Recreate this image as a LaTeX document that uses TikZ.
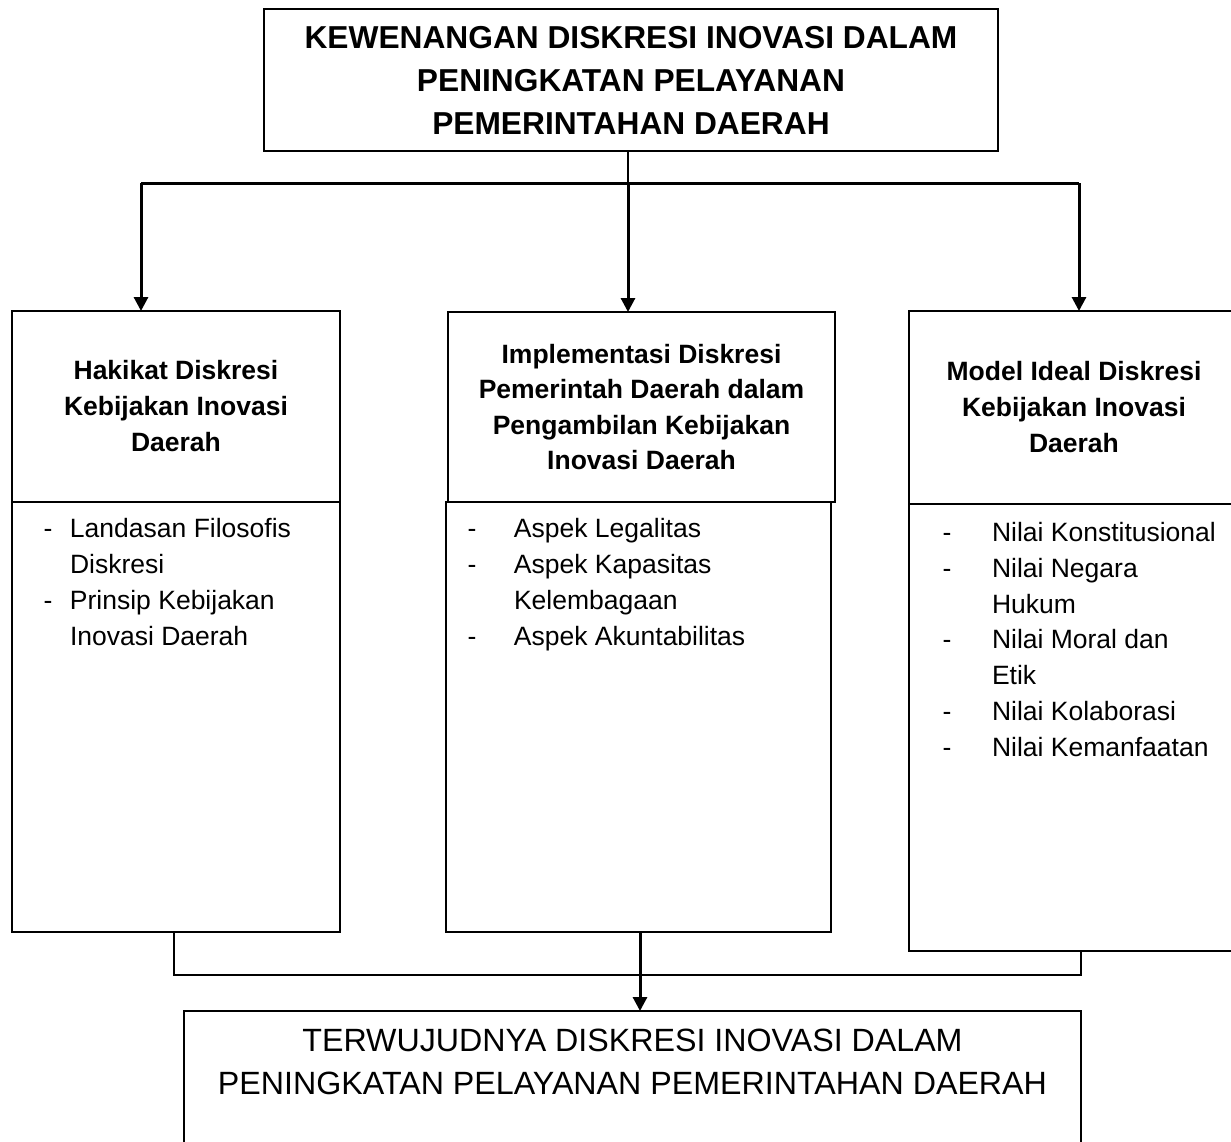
\documentclass[tikz,border=0pt]{standalone}
\usepackage{fontspec}
\setmainfont{Liberation Sans}
\usetikzlibrary{arrows.meta}
\begin{document}
\begin{tikzpicture}[x=1pt,y=-1pt,
  box/.style={draw, line width=2pt, rectangle, inner sep=0pt, outer sep=0pt, anchor=north west, align=center},
  hdr/.style={box, font=\fontsize{26.5}{36}\selectfont\bfseries},
  bus/.style={line width=3pt},
  arr/.style={line width=3pt, -{Triangle[length=14pt,width=14pt]}},
  conn/.style={line width=1.8pt},
  lst/.style={anchor=base west, inner sep=0pt, outer sep=0pt, font=\fontsize{26.5}{36}\selectfont}
]
\useasboundingbox (0,0) rectangle (1231,1141);
\clip (0,0) rectangle (1231,1141);

% top box
\node[box, minimum width=734pt, minimum height=142pt, font=\fontsize{31.7}{43}\selectfont\bfseries] (top) at (264,9)
  {KEWENANGAN DISKRESI INOVASI DALAM\\PENINGKATAN PELAYANAN\\PEMERINTAHAN DAERAH};

% headers
\node[hdr, minimum width=328pt, minimum height=191pt] (hL) at (12,311)
  {Hakikat Diskresi\\Kebijakan Inovasi\\Daerah};
\node[hdr, minimum width=387pt, minimum height=190pt, font=\fontsize{26.5}{35.5}\selectfont\bfseries] (hM) at (448,312)
  {Implementasi Diskresi\\Pemerintah Daerah dalam\\Pengambilan Kebijakan\\Inovasi Daerah};
\node[hdr, minimum width=330pt, minimum height=193pt] (hR) at (909,311)
  {Model Ideal Diskresi\\Kebijakan Inovasi\\Daerah};

% bodies
\node[box, minimum width=328pt, minimum height=430pt] (bL) at (12,502) {};
\node[box, minimum width=385pt, minimum height=430pt] (bM) at (446,502) {};
\node[box, minimum width=330pt, minimum height=447pt] (bR) at (909,504) {};

% lists
\node[lst] (lL) at (43.6,537.5) {\begin{tabular}[t]{@{}p{26.4pt}@{}l@{}}
-&Landasan Filosofis\\ &Diskresi\\ -&Prinsip Kebijakan\\ &Inovasi Daerah\end{tabular}};
\node[lst] (lM) at (467.6,537.5) {\begin{tabular}[t]{@{}p{46.4pt}@{}l@{}}
-&Aspek Legalitas\\ -&Aspek Kapasitas\\ &Kelembagaan\\ -&Aspek Akuntabilitas\end{tabular}};
\node[lst, font=\fontsize{26.5}{35.8}\selectfont] (lR) at (942.6,541.5) {\begin{tabular}[t]{@{}p{49.4pt}@{}l@{}}
-&Nilai Konstitusional\\ -&Nilai Negara\\ &Hukum\\ -&Nilai Moral dan\\ &Etik\\ -&Nilai Kolaborasi\\ -&Nilai Kemanfaatan\end{tabular}};

% bottom box
\node[box, minimum width=897pt, minimum height=160pt] (bot) at (184,1011) {};
\node[font=\fontsize{32.2}{43}\selectfont, align=center, inner sep=0pt] (botText) at (632.5,1061.5)
  {TERWUJUDNYA DISKRESI INOVASI DALAM\\PENINGKATAN PELAYANAN PEMERINTAHAN DAERAH};

% top connectors
\coordinate (busL) at (141,183);
\coordinate (busM) at (628,183);
\coordinate (busR) at (1079,183);
\draw[line width=2.2pt] (top.south -| busM) -- (busM);
\draw[bus] (busL) -- (busR);
\draw[arr] (busL) -- (busL |- hL.north);
\draw[arr] (busM) -- (busM |- hM.north);
\draw[arr] (busR) -- (busR |- hR.north);

% bottom connectors
\coordinate (jL) at (174,975);
\coordinate (jM) at (640,975);
\coordinate (jR) at (1081,975);
\draw[conn] (bL.south -| jL) -- (jL) -- (jR) -- (jR |- bR.south);
\draw[arr] (bM.south -| jM) -- (jM |- bot.north);
\end{tikzpicture}
\end{document}
